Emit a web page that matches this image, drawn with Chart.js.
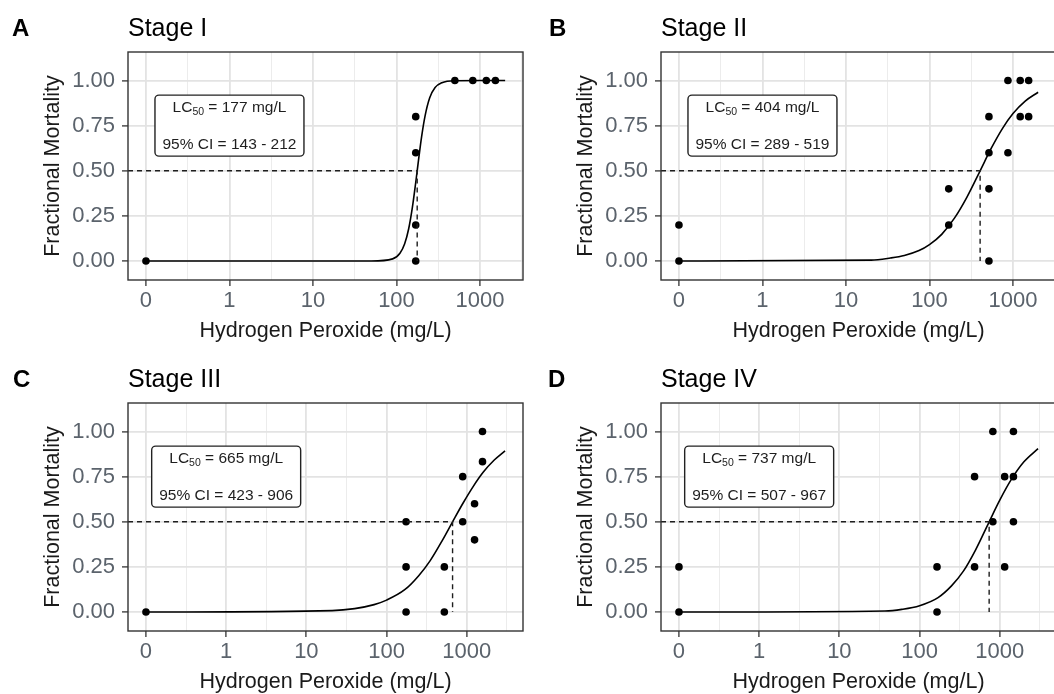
<!DOCTYPE html>
<html>

<head>
  <meta charset="utf-8">
  <title>Hydrogen peroxide mortality by stage</title>
  <script src="https://cdn.jsdelivr.net/npm/chart.js@4.4.1/dist/chart.umd.min.js"></script>
  <style>
    html, body { margin: 0; padding: 0; background: #fff; width: 1054px; height: 694px; overflow: hidden; }
    .panel { position: absolute; width: 527px; height: 347px; }
  </style>
</head>

<body>
  <div class="panel" style="left:0;top:0"><canvas id="chartA" width="527" height="347"></canvas></div>
  <div class="panel" style="left:533px;top:0"><canvas id="chartB" width="527" height="347"></canvas></div>
  <div class="panel" style="left:0;top:351px"><canvas id="chartC" width="527" height="347"></canvas></div>
  <div class="panel" style="left:533px;top:351px"><canvas id="chartD" width="527" height="347"></canvas></div>
</body>

</html>

<script>
  const FONT = '"Liberation Sans", Arial, sans-serif';

  // x tick labels (mg/L); the "0" dose is drawn at 0.1 on the log axis
  const doseTickLabels = ['0', '1', '10', '100', '1000'];
  const doseTickPos = [0.1, 1, 10, 100, 1000];
  const doseMinorPos = [0.316, 3.16, 31.6, 316, 3162];
  const mortTicks = [0, 0.25, 0.5, 0.75, 1];
  const mortMinor = [0.125, 0.375, 0.625, 0.875, 1.125];
  const ZERO_POS = 0.1;

  // Stage I
  const s1Dose = [0, 170, 170, 170, 170, 500, 820, 1190, 1530];
  const s1Mort = [0, 0.8, 0.6, 0.2, 0, 1, 1, 1, 1];
  const s1FitDose = [0, 50, 90, 110, 125, 140, 155, 170, 185, 200, 220, 250, 290, 350, 500, 1000, 2000];
  const s1FitMort = [0, 0, 0.012, 0.043, 0.094, 0.179, 0.297, 0.435, 0.571, 0.689, 0.804, 0.904, 0.961, 0.988, 0.999, 1, 1];
  const s1LC50 = 177, s1CI = [143, 212];

  // Stage II
  const s2Dose = [0, 0, 170, 170, 515, 515, 515, 515, 870, 870, 1220, 1220, 1540, 1540];
  const s2Mort = [0.2, 0, 0.4, 0.2, 0.8, 0.6, 0.4, 0, 1, 0.6, 1, 0.8, 1, 0.8];
  const s2FitDose = [0, 20, 34, 50, 75, 100, 140, 200, 280, 404, 550, 750, 1000, 1400, 2000];
  const s2FitMort = [0, 0.005, 0.017, 0.031, 0.058, 0.091, 0.148, 0.239, 0.353, 0.5, 0.625, 0.735, 0.817, 0.886, 0.935];
  const s2LC50 = 404, s2CI = [289, 519];

  // Stage III
  const s3Dose = [0, 175, 175, 175, 525, 525, 890, 890, 1250, 1250, 1570, 1570];
  const s3Mort = [0, 0.5, 0.25, 0, 0.25, 0, 0.75, 0.5, 0.6, 0.4, 1, 0.833];
  const s3FitDose = [0, 21, 40, 70, 100, 170, 250, 350, 500, 665, 900, 1200, 1600, 2200, 3000];
  const s3FitMort = [0, 0.008, 0.019, 0.041, 0.066, 0.125, 0.2, 0.285, 0.4, 0.5, 0.604, 0.695, 0.774, 0.842, 0.893];
  const s3LC50 = 665, s3CI = [423, 906];

  // Stage IV
  const s4Dose = [0, 0, 165, 165, 485, 485, 820, 820, 1150, 1150, 1480, 1480, 1480];
  const s4Mort = [0.25, 0, 0.25, 0, 0.75, 0.25, 1, 0.5, 0.75, 0.25, 1, 0.75, 0.5];
  const s4FitDose = [0, 37, 60, 100, 170, 250, 350, 500, 737, 1000, 1400, 2000, 3000];
  const s4FitMort = [0, 0.006, 0.015, 0.035, 0.08, 0.145, 0.225, 0.345, 0.5, 0.62, 0.736, 0.832, 0.905];
  const s4LC50 = 737, s4CI = [507, 967];

  const frame = {
    id: 'frame',
    afterDatasetsDraw(chart) {
      const { ctx, chartArea: a } = chart;
      ctx.save();
      ctx.strokeStyle = '#333';
      ctx.lineWidth = 1.4;
      ctx.strokeRect(a.left, a.top, a.right - a.left, a.bottom - a.top);
      ctx.restore();
    }
  };

  const lcLabel = {
    id: 'lcLabel',
    afterDatasetsDraw(chart, args, opts) {
      const { ctx } = chart;
      const cx = chart.scales.x.getPixelForValue(1);
      const cy = chart.scales.y.getPixelForValue(0.75);
      const big = '15.5px ' + FONT, small = '10.5px ' + FONT;
      const rest = ' = ' + opts.lc50 + ' mg/L';
      const line2 = '95% CI = ' + opts.ci[0] + ' - ' + opts.ci[1];
      ctx.save();
      ctx.font = big;
      const wLC = ctx.measureText('LC').width;
      const wRest = ctx.measureText(rest).width;
      const w2 = ctx.measureText(line2).width;
      ctx.font = small;
      const wSub = ctx.measureText('50').width;
      const w1 = wLC + wSub + wRest;
      const bw = Math.max(w1, w2) + 15, bh = 61;
      const x0 = cx - bw / 2, y0 = cy - bh / 2, r = 4;
      ctx.beginPath();
      ctx.moveTo(x0 + r, y0);
      ctx.arcTo(x0 + bw, y0, x0 + bw, y0 + bh, r);
      ctx.arcTo(x0 + bw, y0 + bh, x0, y0 + bh, r);
      ctx.arcTo(x0, y0 + bh, x0, y0, r);
      ctx.arcTo(x0, y0, x0 + bw, y0, r);
      ctx.closePath();
      ctx.fillStyle = '#fff';
      ctx.fill();
      ctx.strokeStyle = '#222';
      ctx.lineWidth = 1.4;
      ctx.stroke();

      ctx.fillStyle = '#1e1e1e';
      ctx.textBaseline = 'middle';
      ctx.textAlign = 'left';
      let tx = cx - w1 / 2;
      const ty = cy - 18;
      ctx.font = big; ctx.fillText('LC', tx, ty); tx += wLC;
      ctx.font = small; ctx.fillText('50', tx, ty + 4); tx += wSub;
      ctx.font = big; ctx.fillText(rest, tx, ty);
      ctx.textAlign = 'center';
      ctx.fillText(line2, cx, cy + 19);
      ctx.restore();
    }
  };

  const panelText = {
    id: 'panelText',
    afterDraw(chart, args, opts) {
      const { ctx } = chart;
      ctx.save();
      ctx.fillStyle = '#000';
      ctx.textBaseline = 'alphabetic';
      ctx.textAlign = 'left';
      ctx.font = 'bold 24px ' + FONT;
      ctx.fillText(opts.letter, opts.letterX, 36);
      ctx.font = '25px ' + FONT;
      ctx.fillText(opts.title, chart.chartArea.left, 36);
      ctx.restore();
    }
  };

  function toPoints(dose, mort) {
    return dose.map((d, i) => ({ x: d > 0 ? d : ZERO_POS, y: mort[i] }));
  }

  function gridColor(ctx) { return ctx.tick && ctx.tick.major ? '#e3e3e3' : '#ececec'; }
  function gridWidth(ctx) { return ctx.tick && ctx.tick.major ? 1.8 : 1; }
  function tickColor(ctx) { return ctx.tick && ctx.tick.major ? '#333' : 'rgba(0,0,0,0)'; }

  function drawPanel(id, p) {
    const xTicks = doseTickPos.map((v, i) => ({ value: v, major: true, text: doseTickLabels[i] }))
      .concat(doseMinorPos.filter(v => v < p.xMax).map(v => ({ value: v, major: false, text: '' })))
      .sort((a, b) => a.value - b.value);
    const yTicks = mortTicks.map(v => ({ value: v, major: true, text: v.toFixed(2) }))
      .concat(mortMinor.map(v => ({ value: v, major: false, text: '' })))
      .sort((a, b) => a.value - b.value);

    new Chart(document.getElementById(id), {
      type: 'scatter',
      data: {
        datasets: [
          {
            data: [{ x: p.xMin, y: 0.5 }, { x: p.lc50, y: 0.5 }, { x: p.lc50, y: 0 }],
            showLine: true, borderColor: '#1e1e1e', borderWidth: 1.4, borderDash: [5, 4],
            pointRadius: 0, fill: false
          },
          {
            data: toPoints(p.fitDose, p.fitMort),
            showLine: true, borderColor: '#000', borderWidth: 1.6,
            pointRadius: 0, fill: false, cubicInterpolationMode: 'monotone'
          },
          {
            data: toPoints(p.dose, p.mort),
            backgroundColor: '#000', borderColor: '#000', borderWidth: 0, pointRadius: 3.8
          }
        ]
      },
      options: {
        responsive: false,
        animation: false,
        events: [],
        layout: { padding: { top: 52, left: 0, right: 2, bottom: 0 } },
        plugins: {
          legend: { display: false },
          tooltip: { enabled: false },
          lcLabel: { lc50: p.lc50, ci: p.ci },
          panelText: { letter: p.letter, letterX: p.letterX, title: p.title }
        },
        scales: {
          x: {
            type: 'logarithmic',
            min: p.xMin,
            max: p.xMax,
            afterBuildTicks: s => { s.ticks = xTicks.map(t => Object.assign({}, t)); },
            afterFit: s => { s.height = 67; },
            ticks: {
              autoSkip: false, maxRotation: 0, padding: 2, color: '#5b636c',
              font: { family: FONT, size: 22 },
              callback: (v, i, ticks) => ticks[i].text
            },
            grid: { color: gridColor, lineWidth: gridWidth, tickLength: 6, tickColor: tickColor, tickWidth: 1.3 },
            border: { display: false },
            title: {
              display: true, text: 'Hydrogen Peroxide (mg/L)', color: '#1a1a1a',
              font: { family: FONT, size: 21.5 }, padding: { top: 0, bottom: 2.6 }
            }
          },
          y: {
            min: -0.105,
            max: 1.158,
            afterBuildTicks: s => { s.ticks = yTicks.map(t => Object.assign({}, t)); },
            afterFit: s => { s.width = 128; },
            ticks: {
              padding: 7, color: '#5b636c',
              font: { family: FONT, size: 22 },
              callback: (v, i, ticks) => ticks[i].text
            },
            grid: { color: gridColor, lineWidth: gridWidth, tickLength: 6, tickColor: tickColor, tickWidth: 1.3 },
            border: { display: false },
            title: {
              display: true, text: 'Fractional Mortality', color: '#1a1a1a',
              font: { family: FONT, size: 21.5 }, padding: { top: 40, bottom: 0 }
            }
          }
        }
      },
      plugins: [frame, lcLabel, panelText]
    });
  }

  const narrowMin = Math.pow(10, -1.215), narrowMax = Math.pow(10, 3.515);
  const wideMin = Math.pow(10, -1.224), wideMax = Math.pow(10, 3.701);

  drawPanel('chartA', {
    letter: 'A', letterX: 12, title: 'Stage I', xMin: narrowMin, xMax: narrowMax,
    dose: s1Dose, mort: s1Mort, fitDose: s1FitDose, fitMort: s1FitMort, lc50: s1LC50, ci: s1CI
  });
  drawPanel('chartB', {
    letter: 'B', letterX: 16, title: 'Stage II', xMin: narrowMin, xMax: narrowMax,
    dose: s2Dose, mort: s2Mort, fitDose: s2FitDose, fitMort: s2FitMort, lc50: s2LC50, ci: s2CI
  });
  drawPanel('chartC', {
    letter: 'C', letterX: 13, title: 'Stage III', xMin: wideMin, xMax: wideMax,
    dose: s3Dose, mort: s3Mort, fitDose: s3FitDose, fitMort: s3FitMort, lc50: s3LC50, ci: s3CI
  });
  drawPanel('chartD', {
    letter: 'D', letterX: 15, title: 'Stage IV', xMin: wideMin, xMax: wideMax,
    dose: s4Dose, mort: s4Mort, fitDose: s4FitDose, fitMort: s4FitMort, lc50: s4LC50, ci: s4CI
  });
</script>
